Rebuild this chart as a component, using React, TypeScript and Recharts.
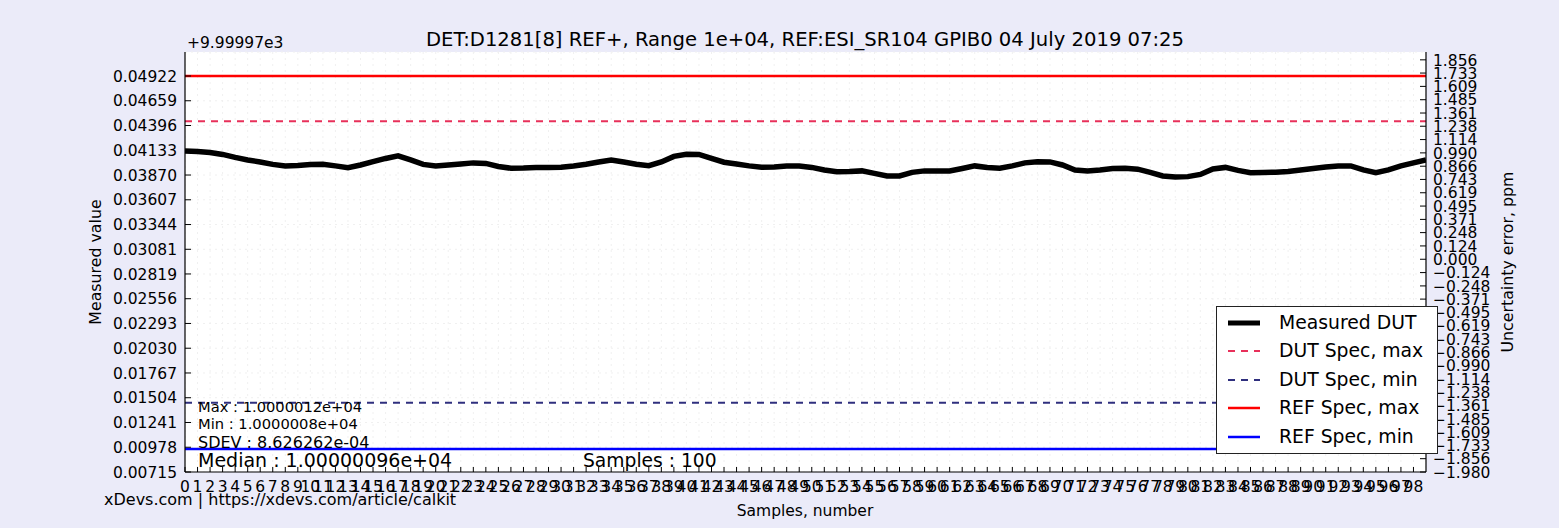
import { ComposedChart, Line, XAxis, YAxis, CartesianGrid, ReferenceLine, Legend } from 'recharts'

const font = '"DejaVu Sans", Verdana, sans-serif'

// measured value minus the 9999.97 offset, one per sample
const measured = [
  0.04126, 0.04121, 0.04110, 0.04089, 0.04057, 0.04030, 0.04009, 0.03983, 0.03967, 0.03972,
  0.03983, 0.03985, 0.03967, 0.03948, 0.03977, 0.04012, 0.04046, 0.04073, 0.04030, 0.03983,
  0.03967, 0.03977, 0.03988, 0.03999, 0.03993, 0.03961, 0.03942, 0.03945, 0.03951, 0.03951,
  0.03953, 0.03967, 0.03985, 0.04009, 0.04030, 0.04009, 0.03985, 0.03970, 0.04009, 0.04068,
  0.04091, 0.04089, 0.04046, 0.04006, 0.03988, 0.03967, 0.03953, 0.03956, 0.03965, 0.03967,
  0.03951, 0.03924, 0.03906, 0.03908, 0.03914, 0.03887, 0.03860, 0.03860, 0.03898, 0.03914,
  0.03914, 0.03914, 0.03940, 0.03967, 0.03951, 0.03942, 0.03967, 0.03999, 0.04012, 0.04009,
  0.03977, 0.03924, 0.03914, 0.03924, 0.03940, 0.03942, 0.03932, 0.03898, 0.03860, 0.03850,
  0.03853, 0.03876, 0.03935, 0.03951, 0.03919, 0.03895, 0.03898, 0.03900, 0.03908, 0.03924,
  0.03940, 0.03956, 0.03967, 0.03967, 0.03924, 0.03895, 0.03924, 0.03967, 0.03999, 0.04030,
]

const refSpecMax = 0.04922
const dutSpecMax = 0.04442
const dutSpecMin = 0.01451
const refSpecMin = 0.0096

const leftTicks = [
  0.00715, 0.00978, 0.01241, 0.01504, 0.01767, 0.0203, 0.02293, 0.02556, 0.02819,
  0.03081, 0.03344, 0.03607, 0.0387, 0.04133, 0.04396, 0.04659, 0.04922,
]
const rightTicks = [
  1.856, 1.733, 1.609, 1.485, 1.361, 1.238, 1.114, 0.99, 0.866, 0.743, 0.619, 0.495, 0.371, 0.248, 0.124, 0,
  -0.124, -0.248, -0.371, -0.495, -0.619, -0.743, -0.866, -0.99, -1.114, -1.238, -1.361, -1.485, -1.609,
  -1.733, -1.856, -1.98,
]
const sampleTicks = Array.from({ length: 99 }, (_, i) => i)

const title = 'DET:D1281[8] REF+, Range 1e+04, REF:ESI_SR104 GPIB0 04 July 2019 07:25'
const offsetText = '+9.99997e3'
const statMax = 'Max : 1.0000012e+04'
const statMin = 'Min : 1.0000008e+04'
const statSdev = 'SDEV : 8.626262e-04'
const statMedian = 'Median : 1.00000096e+04'
const statSamples = 'Samples : 100'
const footnote = 'xDevs.com | https://xdevs.com/article/calkit'

const legendItems = [
  { name: 'Measured DUT', color: '#000000', width: 5, dash: undefined as string | undefined },
  { name: 'DUT Spec, max', color: '#e8305a', width: 2, dash: '7 6' },
  { name: 'DUT Spec, min', color: '#2f2f7e', width: 2, dash: '7 6' },
  { name: 'REF Spec, max', color: '#ff0000', width: 2.5, dash: undefined },
  { name: 'REF Spec, min', color: '#0000ff', width: 2.5, dash: undefined },
]

const data = measured.map((v, i) => ({ sample: i, value: v }))

const tickFont = 15.5

function BottomTick({ x, y, payload }: any) {
  return (
    <g>
      <line x1={x} x2={x} y1={y} y2={y - 5} stroke="#000" />
      <text x={x} y={y + 19.5} textAnchor="middle" fontSize={tickFont} fontFamily={font} fill="#000">
        {payload.value}
      </text>
    </g>
  )
}

function TopTick({ x, y }: any) {
  return <line x1={x} x2={x} y1={y} y2={y + 5} stroke="#000" />
}

function LeftTick({ x, y, payload }: any) {
  return (
    <g>
      <line x1={x} x2={x + 6} y1={y} y2={y} stroke="#000" />
      <text x={x - 8} y={y + 5.7} textAnchor="end" fontSize={tickFont} fontFamily={font} fill="#000">
        {payload.value.toFixed(5)}
      </text>
    </g>
  )
}

function RightTick({ x, y, payload }: any) {
  const v: number = payload.value
  const label = (v < 0 ? '\u2212' : '') + Math.abs(v).toFixed(3)
  return (
    <g>
      <line x1={x} x2={x - 6} y1={y} y2={y} stroke="#000" />
      <text x={x + 7} y={y + 5.7} textAnchor="start" fontSize={tickFont} fontFamily={font} fill="#000">
        {label}
      </text>
    </g>
  )
}

function LegendBox() {
  return (
    <div
      style={{
        width: 220, height: 146, background: '#fff', border: '1px solid #222',
        fontFamily: font, fontSize: 18.8, color: '#000', position: 'relative',
      }}
    >
      {legendItems.map((it, i) => (
        <div key={it.name} style={{ position: 'absolute', left: 0, top: 2 + i * 28.4, height: 28, display: 'flex', alignItems: 'center' }}>
          <svg width={62} height={28}>
            <line x1={11} x2={43} y1={14} y2={14} stroke={it.color} strokeWidth={it.width} strokeDasharray={it.dash} />
          </svg>
          <span style={{ whiteSpace: 'nowrap', lineHeight: '28px' }}>{it.name}</span>
        </div>
      ))}
    </div>
  )
}

export default function App() {
  return (
    <div style={{ position: 'absolute', left: 0, top: 0, width: 1559, height: 528, background: '#ebebf9', overflow: 'hidden' }}>
      <ComposedChart width={1559} height={528} data={data} margin={{ top: 52, right: 0, bottom: 0, left: 0 }}>
        <CartesianGrid yAxisId="left" fill="#fff" stroke="#f0f0f0" strokeDasharray="2 4" />
        <XAxis
          dataKey="sample" type="number" domain={[0, 99]} ticks={sampleTicks} interval={0}
          height={56} tickSize={0} tickMargin={0} tickLine={false}
          axisLine={{ stroke: '#000', strokeWidth: 1.2 }} tick={<BottomTick />} allowDataOverflow
        />
        <XAxis
          xAxisId="top" orientation="top" dataKey="sample" type="number" domain={[0, 99]} ticks={sampleTicks}
          interval={0} height={0} tickSize={0} tickMargin={0} tickLine={false}
          axisLine={{ stroke: '#000', strokeWidth: 1.2 }} tick={<TopTick />} allowDataOverflow
        />
        <YAxis
          yAxisId="left" type="number" domain={[0.00715, 0.05177]} ticks={leftTicks} interval={0}
          width={185} tickSize={0} tickMargin={0} tickLine={false}
          axisLine={{ stroke: '#000', strokeWidth: 1.2 }} tick={<LeftTick />} allowDataOverflow
        />
        <YAxis
          yAxisId="right" orientation="right" type="number" domain={[-1.98, 1.929]} ticks={rightTicks} interval={0}
          width={133} tickSize={0} tickMargin={0} tickLine={false}
          axisLine={{ stroke: '#000', strokeWidth: 1.2 }} tick={<RightTick />} allowDataOverflow
        />
        <ReferenceLine yAxisId="left" y={refSpecMax} stroke="#ff0000" strokeWidth={2.5} />
        <ReferenceLine yAxisId="left" y={dutSpecMax} stroke="#e8305a" strokeWidth={2} strokeDasharray="7 6" />
        <ReferenceLine yAxisId="left" y={dutSpecMin} stroke="#2f2f7e" strokeWidth={2} strokeDasharray="7 6" />
        <ReferenceLine yAxisId="left" y={refSpecMin} stroke="#0000ff" strokeWidth={2.5} />
        <Line
          yAxisId="left" dataKey="value" type="linear" stroke="#000" strokeWidth={5.5}
          dot={false} isAnimationActive={false}
        />
        <Legend
          layout="vertical" align="center" verticalAlign="middle" content={<LegendBox />}
          wrapperStyle={{ left: 1216, top: 306, width: 222, height: 148 }}
        />
      </ComposedChart>
      <svg width={1559} height={528} style={{ position: 'absolute', left: 0, top: 0, pointerEvents: 'none' }}>
        <g fontFamily={font} fill="#000">
          <text x={805} y={46} textAnchor="middle" fontSize={19.6}>{title}</text>
          <text x={187} y={48} fontSize={15.5}>{offsetText}</text>
          <text x={198} y={412} fontSize={14.7}>{statMax}</text>
          <text x={198} y={429} fontSize={14.7}>{statMin}</text>
          <text x={198} y={448} fontSize={16}>{statSdev}</text>
          <text x={198} y={467} fontSize={19}>{statMedian}</text>
          <text x={583} y={467} fontSize={18.7}>{statSamples}</text>
          <text x={104} y={505} fontSize={16}>{footnote}</text>
          <text x={805} y={516} textAnchor="middle" fontSize={15.5}>Samples, number</text>
          <text x={100.5} y={262} textAnchor="middle" fontSize={15.8} transform="rotate(-90 100.5 262)">Measured value</text>
          <text x={1513} y={262} textAnchor="middle" fontSize={15.8} transform="rotate(-90 1513 262)">Uncertainty error, ppm</text>
        </g>
      </svg>
    </div>
  )
}
